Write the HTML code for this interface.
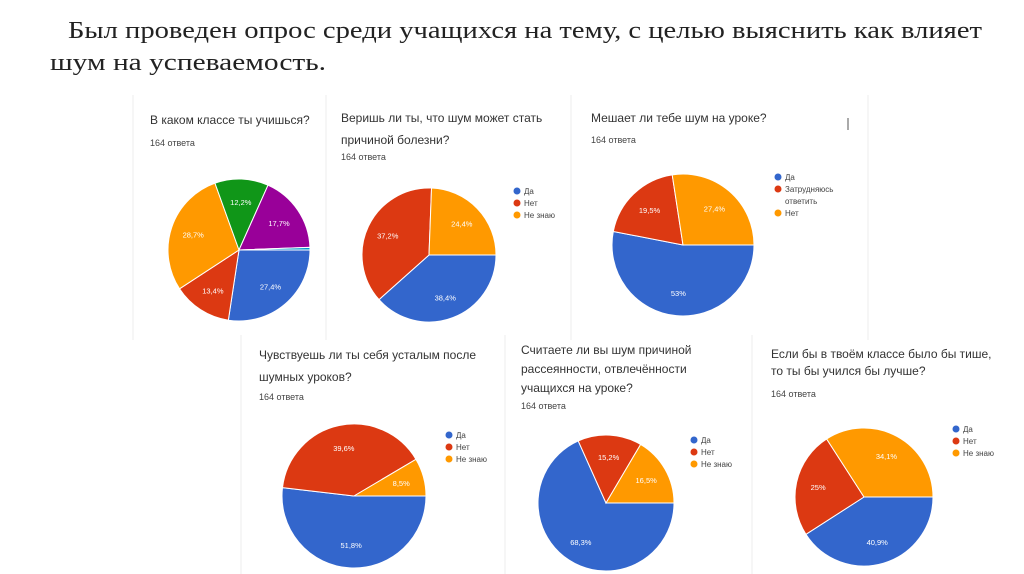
<!DOCTYPE html>
<html><head><meta charset="utf-8"><style>
body{margin:0;width:1024px;height:574px;background:#fff;overflow:hidden}
svg{display:block}
</style></head><body>
<svg id="s" width="1024" height="574" xmlns="http://www.w3.org/2000/svg" font-family="Liberation Sans, sans-serif">
<text x="68" y="38" font-family="Liberation Serif, serif" font-size="24" fill="#222" textLength="914" lengthAdjust="spacingAndGlyphs">Был проведен опрос среди учащихся на тему, с целью выяснить как влияет</text>
<text x="50" y="70" font-family="Liberation Serif, serif" font-size="24" fill="#222" textLength="276" lengthAdjust="spacingAndGlyphs">шум на успеваемость.</text>
<g stroke="#ececec" stroke-width="1">
<line x1="133" y1="95" x2="133" y2="340"/><line x1="326" y1="95" x2="326" y2="340"/><line x1="571" y1="95" x2="571" y2="340"/><line x1="868" y1="95" x2="868" y2="340"/>
<line x1="241" y1="335" x2="241" y2="574"/><line x1="505" y1="335" x2="505" y2="574"/><line x1="752" y1="335" x2="752" y2="574"/>
</g>
<line x1="848" y1="118" x2="848" y2="130" stroke="#555"/>
</svg>
<script>
const colors=["#3366cc","#dc3912","#ff9900","#109618","#990099","#0099c6"];
const c1Labels=["1","2","3","4","5","6"];
const c1Values=[27.4,13.4,28.7,12.2,17.7,0.6];
const c2Labels=["Да","Нет","Не знаю"];
const c2Values=[38.4,37.2,24.4];
const c3Labels=["Да","Затрудняюсь ответить","Нет"];
const c3Values=[53,19.5,27.4];
const c4Labels=["Да","Нет","Не знаю"];
const c4Values=[51.8,39.6,8.5];
const c5Labels=["Да","Нет","Не знаю"];
const c5Values=[68.3,15.2,16.5];
const c6Labels=["Да","Нет","Не знаю"];
const c6Values=[40.9,25,34.1];
const titles=[["В каком классе ты учишься?"],["Веришь ли ты, что шум может стать","причиной болезни?"],["Мешает ли тебе шум на уроке?"],["Чувствуешь ли ты себя усталым после","шумных уроков?"],["Считаете ли вы шум причиной","рассеянности, отвлечённости","учащихся на уроке?"],["Если бы в твоём классе было бы тише,","то ты бы учился бы лучше?"]];
const printed=[["27,4%","13,4%","28,7%","12,2%","17,7%",""],["38,4%","37,2%","24,4%"],["53%","19,5%","27,4%"],["51,8%","39,6%","8,5%"],["68,3%","15,2%","16,5%"],["40,9%","25%","34,1%"]];
const NS="http://www.w3.org/2000/svg";
const s=document.getElementById('s');
function mk(t,a){const e=document.createElementNS(NS,t);for(const k in a)e.setAttribute(k,a[k]);return e;}
const cfg=[
 {v:c1Values,l:null,cx:239,cy:250,r:71,tx:150,ty:[124],ny:146,lx:0,ly:0},
 {v:c2Values,l:c2Labels,cx:429,cy:255,r:67,tx:341,ty:[122,144],ny:160,lx:517,ly:191},
 {v:c3Values,l:c3Labels,cx:683,cy:245,r:71,tx:591,ty:[122],ny:143,lx:778,ly:177},
 {v:c4Values,l:c4Labels,cx:354,cy:496,r:72,tx:259,ty:[359,381],ny:400,lx:449,ly:435},
 {v:c5Values,l:c5Labels,cx:606,cy:503,r:68,tx:521,ty:[354,373,392],ny:409,lx:694,ly:440},
 {v:c6Values,l:c6Labels,cx:864,cy:497,r:69,tx:771,ty:[358,375],ny:397,lx:956,ly:429}];
cfg.forEach((c,i)=>{
 const g=mk('g',{});
 
 
 s.appendChild(g);
 c.ty.forEach((y,j)=>{const t=mk('text',{x:c.tx,y:y,'font-size':12,fill:'#333'});t.textContent=titles[i][j];
  g.appendChild(t);});
 const n=mk('text',{x:c.tx,y:c.ny,'font-size':9,fill:'#444'});n.textContent='164 ответа';
 g.appendChild(n);
 const tot=c.v.reduce((a,b)=>a+b,0);let a0=0;
 c.v.forEach((v,k)=>{
  const a1=a0+v/tot*2*Math.PI;
  const x0=c.cx+c.r*Math.cos(a0),y0=c.cy+c.r*Math.sin(a0),x1=c.cx+c.r*Math.cos(a1),y1=c.cy+c.r*Math.sin(a1);
  const p=mk('path',{d:`M${c.cx},${c.cy}L${x0},${y0}A${c.r},${c.r} 0 ${a1-a0>Math.PI?1:0} 1 ${x1},${y1}Z`,fill:colors[k],stroke:'#fff','stroke-width':1});
  g.appendChild(p);
  const am=(a0+a1)/2;const lab=printed[i][k];
  if(lab){const t=mk('text',{x:c.cx+c.r*0.68*Math.cos(am),y:c.cy+c.r*0.68*Math.sin(am)+3,'font-size':7.5,fill:'#fff','text-anchor':'middle'});t.textContent=lab;
   g.appendChild(t);}
  a0=a1;});
 if(c.l){let y=c.ly;c.l.forEach((name,k)=>{
  const d=mk('circle',{cx:c.lx,cy:y,r:3.5,fill:colors[k]});g.appendChild(d);
  const parts=name==="Затрудняюсь ответить"?["Затрудняюсь","ответить"]:[name];
  parts.forEach((pt,j)=>{const t=mk('text',{x:c.lx+7,y:y+3+j*12,'font-size':8,fill:'#444'});t.textContent=pt;
   g.appendChild(t);});
  y+=12*parts.length;});}
});
</script>
</body></html>
